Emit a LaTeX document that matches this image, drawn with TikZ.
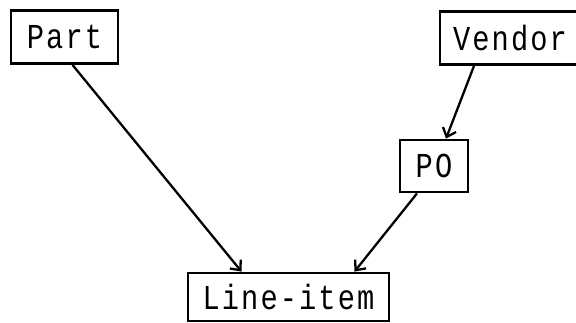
\documentclass[tikz,border=0pt]{standalone}
\usepackage{fontspec}
\newfontfamily\entfont[FakeStretch=0.82,LetterSpace=6]{Liberation Mono}
\usepackage{tikz}
\usetikzlibrary{arrows.meta,positioning}

\begin{document}
\begin{tikzpicture}[x=1pt,y=1pt,
  ent/.style={draw,line width=2.8pt,inner sep=0pt,minimum height=#1,
    font=\entfont\fontsize{35}{35}\selectfont},
  ent/.default=53pt,
  arr/.style={-{Straight Barb[length=8pt,width=14pt]},line width=2.3pt}]
\useasboundingbox (0,0) rectangle (576,322);
% entities
\node[ent,minimum width=107pt] (part) at (64.5,285) {Part};
\node[ent,minimum width=140pt] (vend) at (510,284) {Vendor};
\node[ent=52pt,minimum width=68pt] (po) at (434,156) {PO};
\node[ent=48pt,minimum width=201pt] (li) at (288.5,25) {Line-item};
% links
\draw[arr] ([xshift=8pt]part.south) -- ([xshift=-47pt]li.north);
\draw[arr] ([xshift=-36pt]vend.south) -- ([xshift=12pt]po.north);
\draw[arr] ([xshift=-17pt]po.south) -- ([xshift=66pt]li.north);
\end{tikzpicture}
\end{document}
